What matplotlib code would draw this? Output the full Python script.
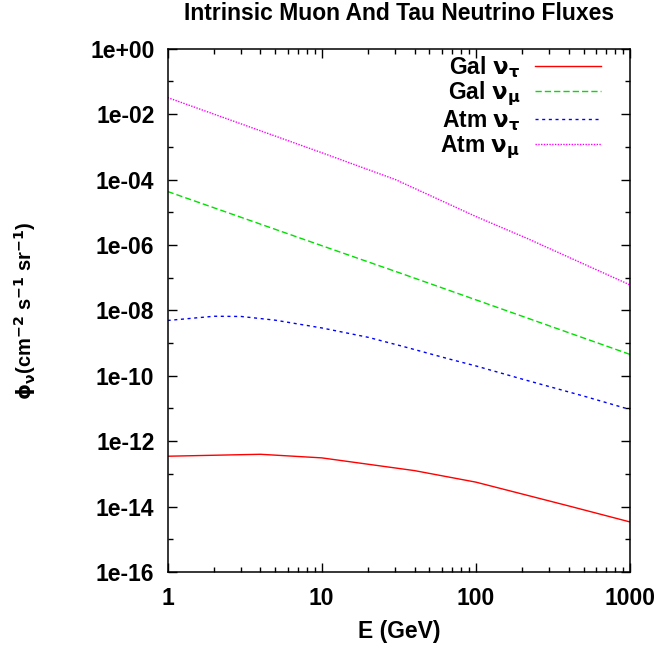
import matplotlib
matplotlib.use("Agg")
import matplotlib.pyplot as plt
from matplotlib.ticker import FixedLocator, FixedFormatter, NullFormatter

plt.rcParams["font.family"] = ["Liberation Sans", "DejaVu Sans"]
plt.rcParams["font.weight"] = "bold"
plt.rcParams["mathtext.fontset"] = "dejavusans"

# Energias (GeV) e fluxos (cm^-2 s^-1 sr^-1)
E_gal_tau = [1, 4, 10, 40, 100, 400, 1000]
phi_gal_tau = [3.47e-13, 3.98e-13, 3.09e-13, 1.26e-13, 5.6e-14, 1.05e-14, 3.4e-15]

E_gal_mu = [1, 10, 32, 100, 1000]
phi_gal_mu = [4.3e-5, 9.5e-7, 1.4e-7, 2.1e-8, 4.5e-10]

E_atm_tau = [1, 2, 3, 5, 10, 20, 34, 68, 100, 200, 500, 1000]
phi_atm_tau = [4.9e-9, 6.6e-9, 6.5e-9, 5.0e-9, 2.9e-9, 1.5e-9, 7.8e-10,
               3.2e-10, 2.0e-10, 7.9e-11, 2.4e-11, 9.3e-12]

E_atm_mu = [1, 10, 30, 100, 214, 1000]
phi_atm_mu = [3.2e-2, 6.6e-4, 1.0e-4, 7.4e-6, 1.6e-6, 6.0e-8]

# Marcas de escala
x_ticks = [1, 10, 100, 1000]
x_tick_labels = ["1", "10", "100", "1000"]
y_ticks = [1e0, 1e-2, 1e-4, 1e-6, 1e-8, 1e-10, 1e-12, 1e-14, 1e-16]
y_tick_labels = ["1e+00", "1e-02", "1e-04", "1e-06", "1e-08",
                 "1e-10", "1e-12", "1e-14", "1e-16"]
y_minor = [1e-1, 1e-3, 1e-5, 1e-7, 1e-9, 1e-11, 1e-13, 1e-15]

fs = 16.5

fig = plt.figure(figsize=(6.6, 6.49), dpi=100)
ax = fig.add_axes([0.254, 0.1186, 0.7005, 0.8064])

lw = 1.0
ax.plot(E_gal_tau, phi_gal_tau, color="#ff0000", lw=lw,
        label=r"Gal $\mathrm{\nu}_{\mathrm{\tau}}$")
ax.plot(E_gal_mu, phi_gal_mu, color="#00e000", lw=lw, dashes=(4.5, 2.2),
        label=r"Gal $\mathrm{\nu}_{\mathrm{\mu}}$")
ax.plot(E_atm_tau, phi_atm_tau, color="#0000ff", lw=lw, dashes=(2.2, 2.6),
        label=r"Atm $\mathrm{\nu}_{\mathrm{\tau}}$")
ax.plot(E_atm_mu, phi_atm_mu, color="#ff00ff", lw=lw, dashes=(1.0, 1.0),
        label=r"Atm $\mathrm{\nu}_{\mathrm{\mu}}$")

ax.set_xscale("log")
ax.set_yscale("log")
ax.set_xlim(1, 1000)
ax.set_ylim(1e-16, 1e0)

ax.xaxis.set_major_locator(FixedLocator(x_ticks))
ax.xaxis.set_major_formatter(FixedFormatter(x_tick_labels))
ax.xaxis.set_minor_formatter(NullFormatter())
ax.yaxis.set_major_locator(FixedLocator(y_ticks))
ax.yaxis.set_major_formatter(FixedFormatter(y_tick_labels))
ax.yaxis.set_minor_locator(FixedLocator(y_minor))
ax.yaxis.set_minor_formatter(NullFormatter())

ax.tick_params(which="both", direction="in", top=True, right=True, width=1.0)
ax.tick_params(which="major", length=6.5, labelsize=fs)
ax.tick_params(axis="x", which="major", pad=11)
ax.tick_params(axis="y", which="major", pad=9.5)
ax.tick_params(which="minor", length=3.6)
for s in ax.spines.values():
    s.set_linewidth(1.1)

ax.set_title("Intrinsic Muon And Tau Neutrino Fluxes", fontsize=fs,
             fontweight="bold", pad=21)
ax.set_xlabel("E (GeV)", fontsize=fs, fontweight="bold", labelpad=7)
ax.set_ylabel(r"$\mathrm{\phi}_{\mathrm{\nu}}$(cm$^{\mathbf{-2}}$ s$^{\mathbf{-1}}$ sr$^{\mathbf{-1}}$)",
              fontsize=14.5, fontweight="bold")
ax.yaxis.set_label_coords(-0.28, 0.5)

ax.legend(loc="upper right", bbox_to_anchor=(0.937, 0.99), frameon=False,
          markerfirst=False, fontsize=fs, handlelength=2.87,
          handletextpad=0.65, labelspacing=0.0, borderpad=0.0,
          borderaxespad=0.0)

fig.savefig("out.png", dpi=100)
